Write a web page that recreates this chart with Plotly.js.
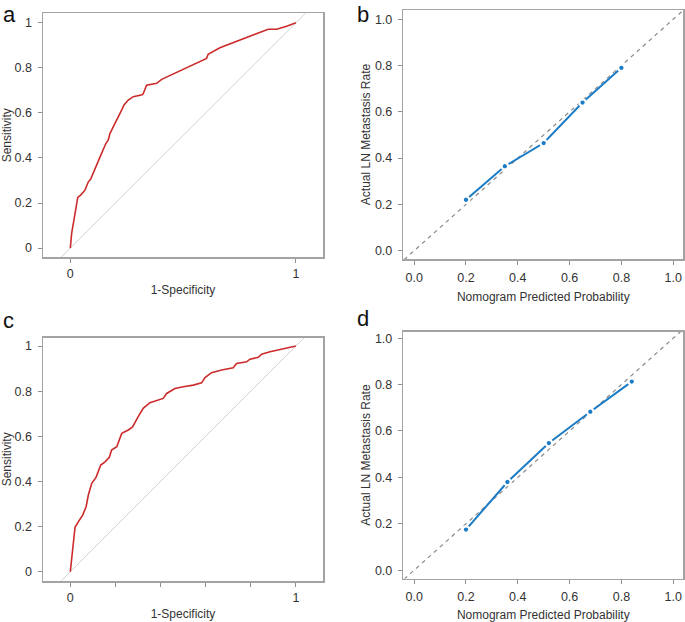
<!DOCTYPE html>
<html>
<head>
<meta charset="utf-8">
<script src="https://cdn.plot.ly/plotly-3.0.1.min.js"></script>
<style>html,body{margin:0;padding:0;background:#fff;}#chart{width:685px;height:622px;}</style>
</head>
<body>
<div id="chart"></div>
<script>
// ---- Data ----
// Panel a: ROC curve (training)
var rocA_fpr = [0, 0.006, 0.016, 0.025, 0.033, 0.046, 0.065, 0.08, 0.09, 0.132, 0.158, 0.168, 0.176, 0.228, 0.238, 0.257, 0.279, 0.318, 0.323, 0.338, 0.383, 0.405, 0.604, 0.611, 0.663, 0.877, 0.914, 0.959, 0.981, 1];
var rocA_tpr = [0, 0.065, 0.124, 0.183, 0.225, 0.235, 0.257, 0.294, 0.305, 0.405, 0.465, 0.479, 0.509, 0.613, 0.635, 0.657, 0.672, 0.68, 0.685, 0.723, 0.731, 0.749, 0.842, 0.86, 0.889, 0.971, 0.971, 0.985, 0.993, 1];
// Panel c: ROC curve (validation)
var rocC_fpr = [0, 0.01, 0.021, 0.036, 0.055, 0.07, 0.08, 0.095, 0.114, 0.135, 0.154, 0.173, 0.183, 0.206, 0.228, 0.257, 0.276, 0.301, 0.323, 0.353, 0.394, 0.412, 0.427, 0.464, 0.501, 0.545, 0.582, 0.597, 0.626, 0.671, 0.722, 0.737, 0.782, 0.796, 0.833, 0.848, 0.885, 0.937, 0.973, 1];
var rocC_tpr = [0, 0.096, 0.197, 0.222, 0.251, 0.288, 0.34, 0.392, 0.418, 0.473, 0.487, 0.507, 0.539, 0.554, 0.613, 0.628, 0.642, 0.687, 0.724, 0.749, 0.761, 0.768, 0.79, 0.812, 0.82, 0.827, 0.837, 0.86, 0.882, 0.894, 0.904, 0.923, 0.93, 0.942, 0.95, 0.964, 0.975, 0.987, 0.992, 1];
// Panel b: calibration (training)
var calB_pred = [0.2, 0.35, 0.5, 0.65, 0.8];
var calB_obs  = [0.22, 0.365, 0.465, 0.64, 0.79];
// Panel d: calibration (validation)
var calD_pred = [0.2, 0.36, 0.52, 0.68, 0.84];
var calD_obs  = [0.175, 0.38, 0.548, 0.683, 0.813];
// Reference diagonal (y = x)
var diagonal = [-0.2, 1.2];
// Tick labels
var rocTickVals = [0, 0.2, 0.4, 0.6, 0.8, 1];
var rocYTickText = ['0', '0.2', '0.4', '0.6', '0.8', '1'];
var rocAXTickVals = [0, 1];
var rocAXTickText = ['0', '1'];
var rocCXTickText = ['0', '', '', '', '', '1'];
var calTickVals = [0, 0.2, 0.4, 0.6, 0.8, 1];
var calTickText = ['0.0', '0.2', '0.4', '0.6', '0.8', '1.0'];
var panelLabels = ['a', 'b', 'c', 'd'];

// ---- Styling ----
var FONT = 'Arial, "Liberation Sans", sans-serif';
var W = 685, H = 622;
function dx(a, b) { return [a / W, b / W]; }
function dy(top, bottom) { return [1 - bottom / H, 1 - top / H]; }

var RED = '#cc2b2b', BLUE = '#1c7cc6', DIAG_ROC = '#d2d2d2', DIAG_CAL = '#8a8a8a';

function axisBase(extra) {
  var a = {
    showline: true, mirror: true, linecolor: '#a3a3a3', linewidth: 1.5,
    ticks: 'outside', ticklen: 4, tickwidth: 1, tickcolor: '#8f8f8f',
    showgrid: false, zeroline: false,
    tickfont: {family: FONT, size: 12.5, color: '#333'},
    fixedrange: true, automargin: false
  };
  for (var k in extra) a[k] = extra[k];
  return a;
}
function ttl(text, standoff) {
  return {text: text, font: {family: FONT, size: 12, color: '#333'}, standoff: standoff};
}

var traces = [
  // Panel a
  {x: diagonal, y: diagonal, xaxis: 'x', yaxis: 'y', mode: 'lines', line: {color: DIAG_ROC, width: 1}, hoverinfo: 'skip', showlegend: false},
  {x: rocA_fpr, y: rocA_tpr, xaxis: 'x', yaxis: 'y', mode: 'lines', line: {color: RED, width: 1.6}, showlegend: false, name: 'ROC a'},
  // Panel b
  {x: diagonal, y: diagonal, xaxis: 'x2', yaxis: 'y2', mode: 'lines', line: {color: DIAG_CAL, width: 1.2, dash: '4px,4px'}, hoverinfo: 'skip', showlegend: false},
  {x: calB_pred, y: calB_obs, xaxis: 'x2', yaxis: 'y2', mode: 'lines+markers', line: {color: BLUE, width: 2},
   marker: {color: BLUE, size: 6.5, line: {color: '#fff', width: 2.2}}, showlegend: false, name: 'Calibration b'},
  // Panel c
  {x: diagonal, y: diagonal, xaxis: 'x3', yaxis: 'y3', mode: 'lines', line: {color: DIAG_ROC, width: 1}, hoverinfo: 'skip', showlegend: false},
  {x: rocC_fpr, y: rocC_tpr, xaxis: 'x3', yaxis: 'y3', mode: 'lines', line: {color: RED, width: 1.6}, showlegend: false, name: 'ROC c'},
  // Panel d
  {x: diagonal, y: diagonal, xaxis: 'x4', yaxis: 'y4', mode: 'lines', line: {color: DIAG_CAL, width: 1.2, dash: '4px,4px'}, hoverinfo: 'skip', showlegend: false},
  {x: calD_pred, y: calD_obs, xaxis: 'x4', yaxis: 'y4', mode: 'lines+markers', line: {color: BLUE, width: 2},
   marker: {color: BLUE, size: 6.5, line: {color: '#fff', width: 2.2}}, showlegend: false, name: 'Calibration d'}
];

var layout = {
  width: W, height: H,
  margin: {l: 0, r: 0, t: 0, b: 0},
  paper_bgcolor: '#fff', plot_bgcolor: '#fff',
  showlegend: false,
  font: {family: FONT, color: '#333'},
  // Panel a
  xaxis: axisBase({domain: dx(43, 323), range: [-0.121, 1.12], anchor: 'y',
    tickvals: rocAXTickVals, ticktext: rocAXTickText, ticklabelstandoff: 0,
    title: ttl('1-Specificity', 6)}),
  yaxis: axisBase({domain: dy(13.3, 257.3), range: [-0.041, 1.042], anchor: 'x',
    tickvals: rocTickVals, ticktext: rocYTickText, ticklabelstandoff: 3,
    title: ttl('Sensitivity', 6)}),
  // Panel b
  xaxis2: axisBase({domain: dx(403.3, 683.3), range: [-0.042, 1.039], anchor: 'y2',
    tickvals: calTickVals, ticktext: calTickText, ticklabelstandoff: 2,
    title: ttl('Nomogram Predicted Probability', 9)}),
  yaxis2: axisBase({domain: dy(10, 259), range: [-0.036, 1.04], anchor: 'x2',
    tickvals: calTickVals, ticktext: calTickText, ticklabelstandoff: 3,
    title: ttl('Actual LN Metastasis Rate', 1)}),
  // Panel c
  xaxis3: axisBase({domain: dx(43, 323), range: [-0.121, 1.12], anchor: 'y3',
    tickvals: rocTickVals, ticktext: rocCXTickText, ticklabelstandoff: 0,
    title: ttl('1-Specificity', 6)}),
  yaxis3: axisBase({domain: dy(337.7, 581), range: [-0.041, 1.037], anchor: 'x3',
    tickvals: rocTickVals, ticktext: rocYTickText, ticklabelstandoff: 3,
    title: ttl('Sensitivity', 6)}),
  // Panel d
  xaxis4: axisBase({domain: dx(403.3, 683.3), range: [-0.042, 1.039], anchor: 'y4',
    tickvals: calTickVals, ticktext: calTickText, ticklabelstandoff: 2,
    title: ttl('Nomogram Predicted Probability', 9)}),
  yaxis4: axisBase({domain: dy(331.7, 578.5), range: [-0.036, 1.028], anchor: 'x4',
    tickvals: calTickVals, ticktext: calTickText, ticklabelstandoff: 3,
    title: ttl('Actual LN Metastasis Rate', 1)}),
  annotations: [
    {text: panelLabels[0], x: 1 / W, y: 1},
    {text: panelLabels[1], x: 355 / W, y: 1},
    {text: panelLabels[2], x: 1 / W, y: 1 - 306 / H},
    {text: panelLabels[3], x: 355 / W, y: 1 - 304 / H}
  ].map(function (a) {
    return {text: a.text, x: a.x, y: a.y, xref: 'paper', yref: 'paper', xanchor: 'left', yanchor: 'top',
      showarrow: false, font: {family: FONT, size: 22, color: '#111'}};
  })
};

Plotly.newPlot('chart', traces, layout, {staticPlot: true, displayModeBar: false});
</script>
</body>
</html>
